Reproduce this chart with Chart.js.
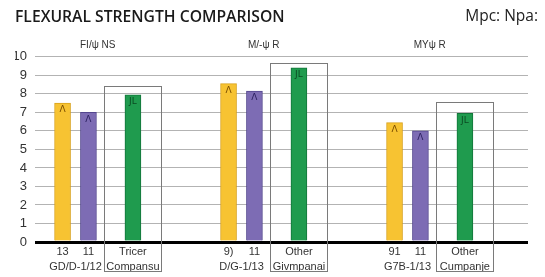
<!DOCTYPE html>
<html>
<head>
<meta charset="utf-8">
<script src="https://cdn.jsdelivr.net/npm/chart.js@4.4.1/dist/chart.umd.min.js"></script>
<style>
  html, body { margin: 0; padding: 0; background: #fff; }
  #wrap { width: 545px; height: 277px; }
</style>
</head>
<body>
<div id="wrap"><canvas id="myChart"></canvas></div>
<script>
// data
const groupNames = ['FI/ψ NS', 'M/-ψ R', 'MYψ R'];
const yellowVals = [7.5, 8.55, 6.45];
const purpleVals = [7.0, 8.15, 6.0];
const greenVals = [7.95, 9.4, 6.95];
const boxTops = [8.45, 9.65, 7.55]; // top of the "other company" frame
const yellowCodes = ['13', '9)', '91'];
const purpleCodes = ['11', '11', '11'];
const pairCodes = ['GD/D-1/12', 'D/G-1/13', 'G7B-1/13'];
const greenNames = [['Tricer', 'Compansu'], ['Other', 'Givmpanai'], ['Other', 'Cumpanje']];
const barMarks = ['Λ', 'Λ', 'JL'];

// placement of bars inside a group (x units, 1 = one group)
const offYellow = -0.212, offPurple = -0.056, offGreen = 0.212, boxHalf = 0.172;
const offPair = (offYellow + offPurple) / 2;

// bottom tick positions + labels
const bottomTicks = [];
const bottomLabels = [];
groupNames.forEach((g, i) => {
  bottomTicks.push(i + offYellow, i + offPurple, i + offPair, i + offGreen);
  bottomLabels.push(yellowCodes[i], purpleCodes[i], ['', pairCodes[i]], greenNames[i]);
});

const toPoints = (vals, off) => vals.map((v, i) => ({ x: i + off, y: v }));

// frame round the green bar and its label
const framePlugin = {
  id: 'frames',
  beforeDatasetsDraw(chart) {
    const { ctx } = chart;
    const xs = chart.scales.x, ys = chart.scales.y;
    ctx.save();
    ctx.strokeStyle = '#7a7a7a';
    ctx.lineWidth = 1;
    boxTops.forEach((t, i) => {
      const l = Math.round(xs.getPixelForValue(i + offGreen - boxHalf)) + 0.5;
      const r = Math.round(xs.getPixelForValue(i + offGreen + boxHalf)) + 0.5;
      const top = Math.round(ys.getPixelForValue(t)) + 0.5;
      const bottom = chart.height - 5.5;
      ctx.strokeRect(l, top, r - l, bottom - top);
    });
    ctx.restore();
  },
  afterDatasetsDraw(chart) {
    const { ctx } = chart;
    const markColors = ['#7a4d00', '#2c2160', '#0b4a22'];
    ctx.save();
    ctx.font = '9px "DejaVu Sans"';
    ctx.textAlign = 'center';
    ctx.textBaseline = 'middle';
    chart.data.datasets.forEach((ds, di) => {
      chart.getDatasetMeta(di).data.forEach(el => {
        ctx.fillStyle = markColors[di];
        ctx.fillText(barMarks[di], el.x, el.y + 7);
      });
    });
    ctx.restore();
  },
  afterDraw(chart) {
    const { ctx } = chart;
    ctx.save();
    ctx.font = '15.5px "Open Sans"';
    ctx.fillStyle = '#222';
    ctx.textAlign = 'right';
    ctx.textBaseline = 'middle';
    ctx.fillText('Mpc: Npa:', 538, 17);
    ctx.restore();
  }
};

const ctx = document.getElementById('myChart');
new Chart(ctx, {
  type: 'bar',
  data: {
    datasets: [{
      data: toPoints(yellowVals, offYellow),
      backgroundColor: '#F7C332',
      borderColor: '#D9A21B',
      borderWidth: 1,
      barThickness: 16,
      grouped: false
    }, {
      data: toPoints(purpleVals, offPurple),
      backgroundColor: '#7D6CB4',
      borderColor: '#54478f',
      borderWidth: 1,
      barThickness: 16,
      grouped: false
    }, {
      data: toPoints(greenVals, offGreen),
      backgroundColor: '#1F9B4E',
      borderColor: '#12753a',
      borderWidth: 1,
      barThickness: 16,
      grouped: false
    }]
  },
  options: {
    responsive: true,
    maintainAspectRatio: false,
    animation: false,
    layout: { padding: { left: 15, right: 17, top: 0, bottom: 0 } },
    plugins: {
      legend: { display: false },
      tooltip: { enabled: false },
      title: {
        display: true,
        text: 'FLEXURAL STRENGTH COMPARISON',
        align: 'start',
        color: '#1a1a1a',
        font: { family: 'Open Sans', size: 15.7, weight: '600' },
        padding: { top: 8, bottom: 4 }
      }
    },
    scales: {
      x: {
        type: 'linear',
        position: 'bottom',
        min: -0.378,
        max: 2.592,
        offset: false,
        grid: { display: false },
        border: { display: false },
        afterBuildTicks: scale => { scale.ticks = bottomTicks.map(v => ({ value: v })); },
        afterFit: scale => { scale.height = 35; },
        ticks: {
          autoSkip: false,
          maxRotation: 0,
          padding: -6,
          color: '#333',
          font: { family: 'Liberation Sans', size: 11, lineHeight: 1.4 },
          callback: (v, i) => bottomLabels[i]
        }
      },
      xTop: {
        type: 'linear',
        position: 'top',
        min: -0.378,
        max: 2.592,
        offset: false,
        grid: { display: false },
        border: { display: false },
        afterBuildTicks: scale => { scale.ticks = groupNames.map((g, i) => ({ value: i })); },
        afterFit: scale => { scale.height = 26; },
        ticks: {
          autoSkip: false,
          maxRotation: 0,
          padding: -2,
          color: '#333',
          font: { family: 'Liberation Sans', size: 10 },
          callback: (v, i) => groupNames[i]
        }
      },
      y: {
        min: 0,
        max: 10,
        afterFit: scale => { scale.width = 20; },
        border: { display: false },
        grid: {
          drawTicks: false,
          color: c => c.tick.value === 0 ? '#000' : '#b3b3b3',
          lineWidth: c => c.tick.value === 0 ? 3 : 1
        },
        ticks: {
          stepSize: 1,
          autoSkip: false,
          padding: 8,
          color: '#333',
          font: { family: 'Liberation Sans', size: 13 }
        }
      }
    }
  },
  plugins: [framePlugin]
});
</script>
</body>
</html>
